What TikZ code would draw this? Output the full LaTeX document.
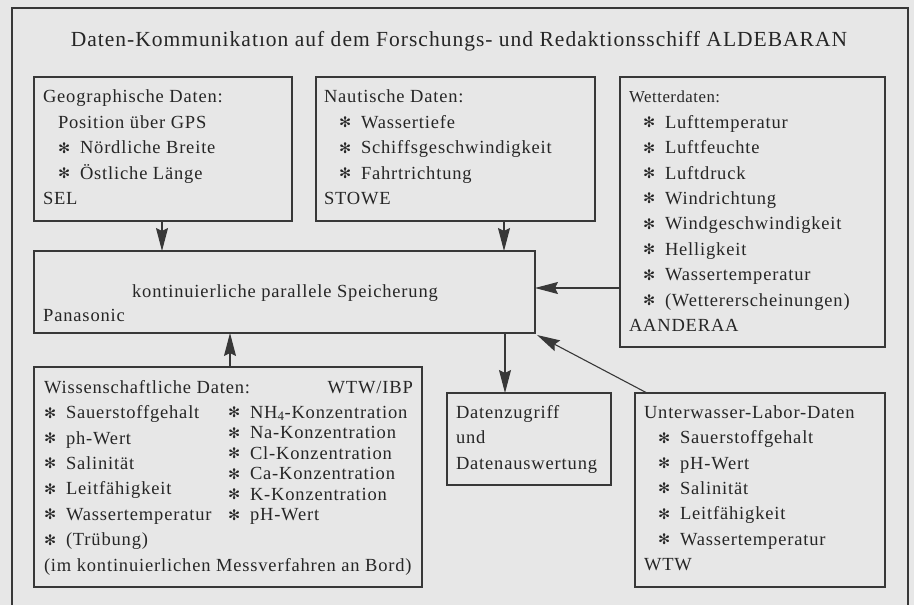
\documentclass[tikz,border=0pt]{standalone}
\usepackage{fontspec}
\setmainfont[LetterSpace=4.5]{Liberation Serif}
\newfontfamily\titlefont[LetterSpace=4.7]{Liberation Serif}
\newfontfamily\headfont[LetterSpace=3]{Liberation Serif}
\newfontfamily\starfont{DejaVu Sans}
\usetikzlibrary{arrows.meta,calc}

\definecolor{paper}{HTML}{E7E7E7}
\definecolor{ink}{HTML}{262626}
\definecolor{rule}{HTML}{383838}

% bullet: six-spoked star followed by a fixed gap
\newcommand{\bul}{\makebox[22pt][l]{\raisebox{0.5pt}{\starfont\fontsize{14.5}{14.5}\selectfont ✻}}}
\newcommand{\ind}{\hspace*{15pt}}

\tikzset{
  box/.style={draw=rule, line width=1.2pt, inner sep=0pt, outer sep=0pt, anchor=north west},
  txt/.style={inner sep=0pt, outer sep=0pt, anchor=north west, align=left, text=ink,
    font=\fontsize{18.5}{25.4}\selectfont},
  arr/.style={draw=rule, line width=1.1pt,
    -{Stealth[length=23pt, width=12pt, inset=3pt]}},
}

\begin{document}
\begin{tikzpicture}[x=1pt, y=-1pt]
  \useasboundingbox[fill=paper] (0,0) rectangle (914,605);

  % outer frame (open at the bottom edge)
  \draw[rule, line width=1.2pt] (12,606) -- (12,8) -- (908,8) -- (908,606);

  % title
  \node[inner sep=0pt, anchor=base, text=ink, font=\titlefont\fontsize{21.5}{21.5}\selectfont]
    (title) at (459,46.7) {Daten-Kommunikatıon auf dem Forschungs- und Redaktionsschiff ALDEBARAN};

  % boxes
  \node[box, minimum width=258pt, minimum height=144pt] (geo)   at (34,77)  {};
  \node[box, minimum width=279pt, minimum height=144pt] (naut)  at (316,77) {};
  \node[box, minimum width=265pt, minimum height=270pt] (wet)   at (620,77) {};
  \node[box, minimum width=501pt, minimum height=82pt]  (store) at (34,251) {};
  \node[box, minimum width=388pt, minimum height=220pt] (wiss)  at (34,367) {};
  \node[box, minimum width=164pt, minimum height=92pt]  (zug)   at (447,393) {};
  \node[box, minimum width=250pt, minimum height=194pt] (unter) at (635,393) {};

  % box texts (first baseline = top + 0.7 * 25.4)
  \node[txt] (geotext) at (43,85.2) {\strut Geographische Daten:\\
    \ind Position über GPS\\
    \ind\bul Nördliche Breite\\
    \ind\bul Östliche Länge\\
    SEL};

  \node[txt] (nauttext) at (324,85.2) {\strut Nautische Daten:\\
    \ind\bul Wassertiefe\\
    \ind\bul Schiffsgeschwindigkeit\\
    \ind\bul Fahrtrichtung\\
    STOWE};

  \node[inner sep=0pt, anchor=base west, text=ink, font=\headfont\fontsize{16.8}{16.8}\selectfont]
    (wethead) at (629,102.5) {Wetterdaten:};
  \node[txt] (wettext) at (629,110.5) {\strut\hspace*{14pt}\bul Lufttemperatur\\
    \hspace*{14pt}\bul Luftfeuchte\\
    \hspace*{14pt}\bul Luftdruck\\
    \hspace*{14pt}\bul Windrichtung\\
    \hspace*{14pt}\bul Windgeschwindigkeit\\
    \hspace*{14pt}\bul Helligkeit\\
    \hspace*{14pt}\bul Wassertemperatur\\
    \hspace*{14pt}\bul (Wettererscheinungen)\\
    AANDERAA};

  \node[inner sep=0pt, anchor=base, text=ink, font=\fontsize{18.5}{18.5}\selectfont]
    (storetext) at (285,297) {kontinuierliche parallele Speicherung};
  \node[inner sep=0pt, anchor=base west, text=ink, font=\fontsize{18.5}{18.5}\selectfont]
    (storemaker) at (43,321.5) {Panasonic};

  \node[txt] (wisstext) at (44,375.5) {\strut Wissenschaftliche Daten:\\
    \bul Sauerstoffgehalt\\
    \bul ph-Wert\\
    \bul Salinität\\
    \bul Leitfähigkeit\\
    \bul Wassertemperatur\\
    \bul (Trübung)\\
    (im kontinuierlichen Messverfahren an Bord)};
  \node[inner sep=0pt, anchor=base east, text=ink, font=\fontsize{18.5}{18.5}\selectfont]
    (wissmaker) at (413,393.3) {WTW/IBP};
  \node[txt, font=\fontsize{18.5}{20.5}\selectfont] (wisschem) at (228,403.7)
    {\strut\bul NH\textsubscript{4}-Konzentration\\
    \bul Na-Konzentration\\
    \bul Cl-Konzentration\\
    \bul Ca-Konzentration\\
    \bul K-Konzentration\\
    \bul pH-Wert};

  \node[txt] (zugtext) at (456,400.5) {\strut Datenzugriff\\
    und\\
    Datenauswertung};

  \node[txt] (untertext) at (644,400.5) {\strut Unterwasser-Labor-Daten\\
    \hspace*{14pt}\bul Sauerstoffgehalt\\
    \hspace*{14pt}\bul pH-Wert\\
    \hspace*{14pt}\bul Salinität\\
    \hspace*{14pt}\bul Leitfähigkeit\\
    \hspace*{14pt}\bul Wassertemperatur\\
    WTW};

  % data flow
  \draw[arr] (geo.south -| 162,0) -- (store.north -| 162,0);
  \draw[arr] (naut.south -| 504,0) -- (store.north -| 504,0);
  \draw[arr] (wet.west |- 0,288) -- (store.east |- 0,288);
  \draw[arr] (wiss.north -| 230,0) -- (store.south -| 230,0);
  \draw[arr] (store.south -| 505,0) -- (zug.north -| 505,0);
  \draw[arr] ($(unter.north west)+(12,0)$) -- ($(store.south east)+(2,2)$);
\end{tikzpicture}
\end{document}
